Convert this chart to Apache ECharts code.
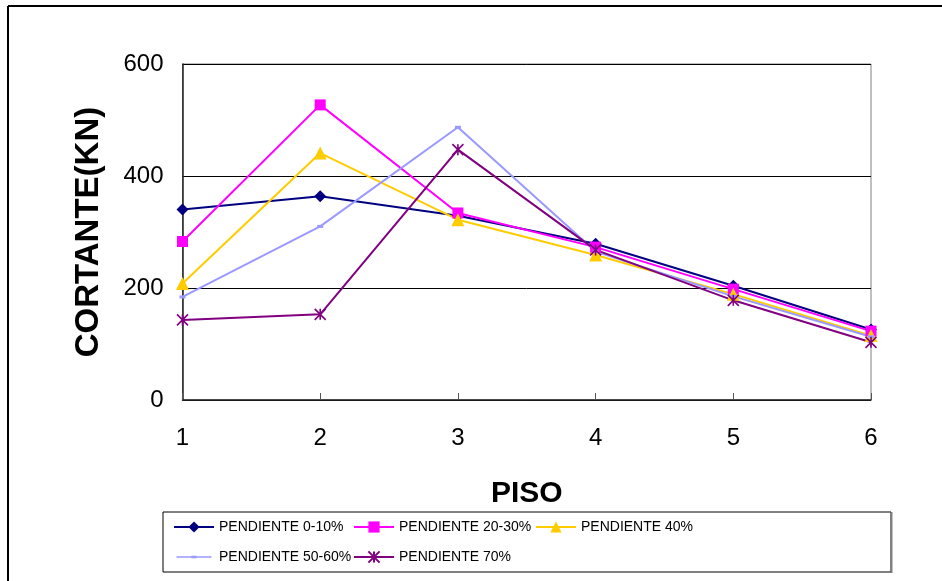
<!DOCTYPE html>
<html>
<head>
<meta charset="utf-8">
<script src="https://cdn.jsdelivr.net/npm/echarts@6/dist/echarts.min.js"></script>
<style>
  html, body { margin: 0; padding: 0; background: #fff; }
  #chart { width: 942px; height: 581px; }
</style>
</head>
<body>
<div id="chart"></div>
<script>
// Floors (PISO) on the category axis
const pisos = ['1', '2', '3', '4', '5', '6'];

// Shear force (KN) per floor for each slope group
const pendiente0_10 = [340, 364, 329, 279, 204, 126];
const pendiente20_30 = [283, 527, 334, 273, 198, 123];
const pendiente40 = [208, 441, 322, 259, 189, 115];
const pendiente50_60 = [184, 310, 487, 265, 185, 113];
const pendiente70 = [143, 153, 447, 268, 178, 103];

const seriesNames = ['PENDIENTE 0-10%', 'PENDIENTE 20-30%', 'PENDIENTE 40%', 'PENDIENTE 50-60%', 'PENDIENTE 70%'];

const FONT = 'Liberation Sans, Arial, sans-serif';
const asterisk = 'path://M0 0L10 10M10 0L0 10M5 0L5 10';
// legend key for the small-dash series: a line with a short bar in the middle
const dashKey = 'path://M0 0L0.01 0L0 0.01Z M0 7.2L40 7.2L40 8.8L0 8.8Z M17 6.5L23 6.5L23 9.5L17 9.5Z M39.99 16L40 16L40 15.99Z';

function lineSeries(name, data, color, symbol, size, extra) {
  return Object.assign({
    name: name,
    type: 'line',
    data: data,
    symbol: symbol,
    symbolSize: size,
    showAllSymbol: true,
    lineStyle: { color: color, width: 2 },
    itemStyle: { color: color },
    emphasis: { disabled: true },
    animation: false
  }, extra || {});
}

const legendText = { fontFamily: FONT, fontSize: 14, color: '#000' };
function legendColumn(left, items) {
  return {
    orient: 'vertical',
    left: left,
    top: 515,
    itemWidth: 40,
    itemHeight: 14,
    itemGap: 16,
    textStyle: legendText,
    data: items,
    selectedMode: false
  };
}

const chart = echarts.init(document.getElementById('chart'), null, { renderer: 'canvas' });
chart.setOption({
  backgroundColor: '#fff',
  animation: false,
  grid: {
    left: 182.5,
    top: 64,
    right: 942 - 871,
    bottom: 581 - 400,
    show: true,
    borderColor: '#808080',
    borderWidth: 1
  },
  xAxis: {
    type: 'category',
    data: pisos,
    boundaryGap: false,
    name: 'PISO',
    nameLocation: 'middle',
    nameGap: 79,
    nameTextStyle: { fontFamily: FONT, fontSize: 30, fontWeight: 'bold', color: '#000' },
    axisLine: { lineStyle: { color: '#222', width: 1.5 } },
    axisTick: { show: true, inside: true, length: 7, lineStyle: { color: '#555' } },
    axisLabel: { fontFamily: FONT, fontSize: 24, color: '#000', margin: 26 },
    splitLine: { show: false }
  },
  yAxis: {
    type: 'value',
    min: 0,
    max: 600,
    interval: 200,
    name: 'CORTANTE(KN)',
    nameLocation: 'middle',
    nameGap: 77,
    nameTextStyle: { fontFamily: FONT, fontSize: 33, fontWeight: 'bold', color: '#000' },
    axisLine: { show: true, lineStyle: { color: '#222', width: 1.5 } },
    axisTick: { show: false },
    axisLabel: { fontFamily: FONT, fontSize: 24, color: '#000', margin: 19 },
    splitLine: { show: true, lineStyle: { color: '#000', width: 1 } }
  },
  legend: [
    legendColumn(168, [seriesNames[0], { name: seriesNames[3], icon: dashKey, itemStyle: { color: '#9999FF' } }]),
    legendColumn(348, [seriesNames[1], seriesNames[4]]),
    legendColumn(530, [seriesNames[2]])
  ],
  graphic: [
    { type: 'line', shape: { x1: 8, y1: 6, x2: 942, y2: 6 }, style: { stroke: '#000', lineWidth: 2 } },
    { type: 'line', shape: { x1: 8, y1: 6, x2: 8, y2: 581 }, style: { stroke: '#000', lineWidth: 2 } },
    { type: 'rect', shape: { x: 163, y: 512, width: 728, height: 60 }, style: { fill: 'none', stroke: '#000', lineWidth: 1 } },
    { type: 'line', shape: { x1: 891.5, y1: 512, x2: 891.5, y2: 573 }, style: { stroke: '#808080', lineWidth: 2 } }
  ],
  series: [
    lineSeries(seriesNames[0], pendiente0_10, '#000080', 'diamond', 12),
    lineSeries(seriesNames[1], pendiente20_30, '#FF00FF', 'rect', 11),
    lineSeries(seriesNames[2], pendiente40, '#FFCC00', 'triangle', 13),
    lineSeries(seriesNames[3], pendiente50_60, '#9999FF', 'rect', [6, 3]),
    lineSeries(seriesNames[4], pendiente70, '#800080', asterisk, 11, {
      itemStyle: { color: '#800080', borderColor: '#800080', borderWidth: 1.6 }
    })
  ]
});
</script>
</body>
</html>
